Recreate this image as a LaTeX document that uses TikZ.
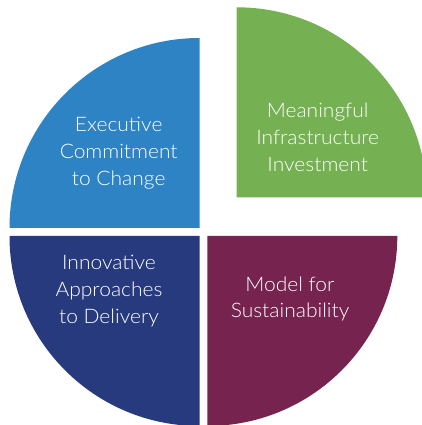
\documentclass[tikz,border=0pt]{standalone}
\usepackage{fontspec}
\IfFontExistsTF{Lato Light}{\setmainfont[FakeStretch=1.05]{Lato Light}}{\setmainfont[FakeStretch=1.05]{Lato}}
\definecolor{cblue}{HTML}{2E83C4}
\definecolor{cgreen}{HTML}{75B152}
\definecolor{cnavy}{HTML}{273A7D}
\definecolor{cplum}{HTML}{762350}
\begin{document}
\begin{tikzpicture}[x=1pt,y=1pt,
  lbl/.style={text=white,align=center,font=\fontsize{20}{26.7}\selectfont,inner sep=0pt}]
\useasboundingbox (0,0) rectangle (422,425);
\clip (0,0) rectangle (422,425);
\fill[cblue] (199.5,197) -- (9.5,197) arc[start angle=180,end angle=90,radius=190pt] -- cycle;
\fill[cnavy] (199.5,189) -- (199.5,-1) arc[start angle=270,end angle=180,radius=190pt] -- cycle;
\fill[cplum] (207.3,189) -- (207.3,-1) arc[start angle=270,end angle=360,radius=190pt] -- cycle;
\fill[cgreen] (236.7,227.7) -- (426.7,227.7) arc[start angle=0,end angle=90,radius=190pt] -- cycle;
\node[lbl] (exec) at (118.7,272) {Executive\\Commitment\\to Change};
\node[lbl] (mean) at (317.7,287.5) {Meaningful\\Infrastructure\\Investment};
\node[lbl] (inno) at (109,134) {Innovative\\Approaches\\to Delivery};
\node[lbl] (model) at (290,126) {Model for\\Sustainability};
\end{tikzpicture}
\end{document}
